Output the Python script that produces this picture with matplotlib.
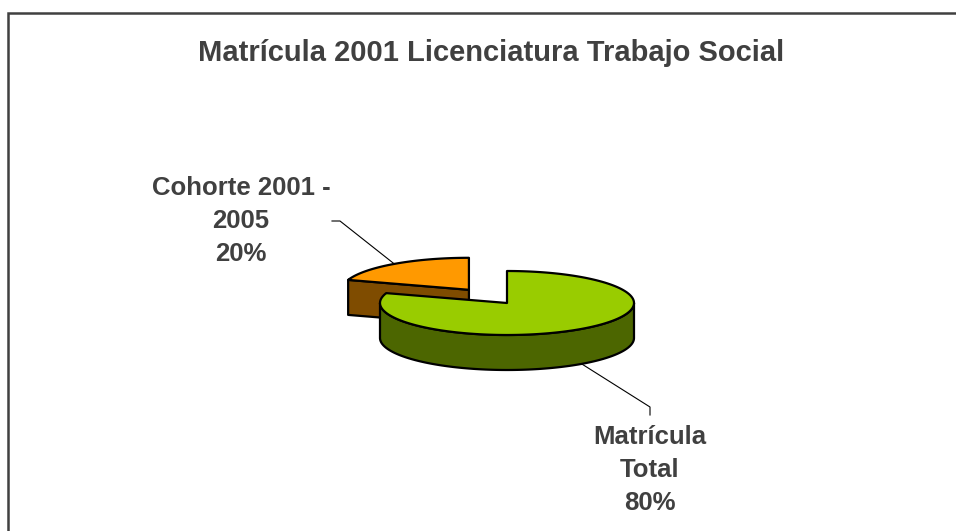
import numpy as np
import matplotlib
matplotlib.use("Agg")
import matplotlib.pyplot as plt
from matplotlib.patches import Polygon

# ---- data ----
categories = ["Matrícula\nTotal", "Cohorte 2001 -\n2005"]
values = [80, 20]
percent_labels = ["80%", "20%"]
explode = [0.0, 0.51]
top_colors = ["#99CC00", "#FF9900"]
side_colors = ["#4C6600", "#7F4C00"]
title = "Matrícula 2001 Licenciatura Trabajo Social"

plt.rcParams['font.family'] = ['Liberation Sans', 'DejaVu Sans']
TEXT = "#404040"

fig = plt.figure(figsize=(9.56, 5.31), dpi=100)
ax = fig.add_axes([0, 0, 1, 1])
ax.set_xlim(0, 956)
ax.set_ylim(531, 0)
ax.axis("off")

# layout of the projected pie (pixels)
cx, cy, rx, ry, depth = 507.0, 303.0, 127.0, 32.0, 35.0

def pt(c, ang, r=1.0):
    a = np.deg2rad(ang)
    return (c[0] + r * rx * np.cos(a), c[1] - r * ry * np.sin(a))

# slice angles: start at 12 o'clock, go clockwise
total = float(sum(values))
start = 90.0
slices = []
for v, e in zip(values, explode):
    sweep = 360.0 * v / total
    a_end = start
    a_start = start - sweep          # counter-clockwise span [a_start, a_end]
    mid = (a_start + a_end) / 2.0
    c = pt((cx, cy), mid, e)
    slices.append((a_start, a_end, mid, c))
    start = a_start

lw = 1.6
# ---- orange (exploded, behind): radial side face on its left edge ----
a0, a1, mid, c = slices[1]
p_edge = pt(c, a1)
quad = [c, p_edge, (p_edge[0], p_edge[1] + depth), (c[0], c[1] + depth)]
ax.add_patch(Polygon(quad, closed=True, fc=side_colors[1], ec="black", lw=lw, joinstyle="round"))
th = np.linspace(a0, a1, 60)
arc = [pt(c, t) for t in th]
ax.add_patch(Polygon([c] + arc, closed=True, fc=top_colors[1], ec="black", lw=lw, joinstyle="round"))

# ---- green (main): front wall then top ----
a0, a1, mid, c = slices[0]
lo = max(a0, -180.0)
hi = min(a1, 0.0)
th = np.linspace(lo, hi, 120)
top_arc = [pt(c, t) for t in th]
bot_arc = [(x, y + depth) for x, y in top_arc[::-1]]
ax.add_patch(Polygon(top_arc + bot_arc, closed=True, fc=side_colors[0], ec="black", lw=lw, joinstyle="round"))
th = np.linspace(a0, a1, 240)
arc = [pt(c, t) for t in th]
ax.add_patch(Polygon([c] + arc, closed=True, fc=top_colors[0], ec="black", lw=lw, joinstyle="round"))

# ---- labels with leader lines ----
lab_pos = [(650, 470), (241, 221)]
line_end = [[(650, 415), (650, 407)], [(332, 221), (340, 221)]]
for i, (a0, a1, mid, c) in enumerate(slices):
    anchor = pt(c, mid)
    if np.sin(np.deg2rad(mid)) < 0:
        anchor = (anchor[0], anchor[1] + depth)
    pts = line_end[i] + [anchor]
    ax.plot([p[0] for p in pts], [p[1] for p in pts], color="black", lw=0.8)
    ax.text(lab_pos[i][0], lab_pos[i][1], categories[i] + "\n" + percent_labels[i],
            ha="center", va="center", fontsize=18.5, fontweight="bold",
            color=TEXT, linespacing=1.45, multialignment="center")

ax.text(491, 53, title, ha="center", va="center", fontsize=21,
        fontweight="bold", color=TEXT)

# chart frame (top and left visible)
ax.plot([8, 8, 960], [540, 13, 13], color="#404040", lw=1.8, solid_joinstyle="miter")

fig.savefig("out.png", dpi=100)
